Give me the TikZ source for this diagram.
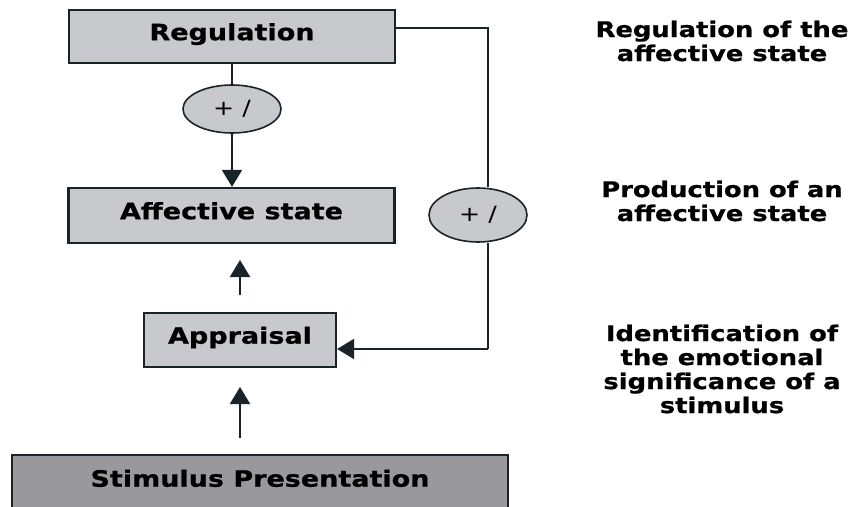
\documentclass[tikz,border=0pt]{standalone}
\usepackage{fontspec}
\setmainfont{DejaVu Sans}[FakeStretch=1.2,BoldFeatures={FakeBold=0.8}]
\usetikzlibrary{arrows.meta,shapes.geometric}
\definecolor{boxgray}{RGB}{200,201,205}
\definecolor{darkgray2}{RGB}{152,152,157}
\definecolor{edge}{RGB}{25,35,40}
\begin{document}
\begin{tikzpicture}[x=1pt,y=-1pt,
  box/.style={draw=edge,line width=2.2pt,fill=boxgray,inner sep=0pt,
    text height=17pt,text depth=9.6pt,
    font=\fontsize{22.5}{26}\selectfont\bfseries},
  oval/.style={ellipse,draw=edge,line width=1.6pt,fill=boxgray,inner sep=0pt,
    font=\fontsize{21}{24}\selectfont},
  side/.style={align=center,font=\fontsize{21.5}{24}\selectfont\bfseries},
  conn/.style={draw=edge,line width=2pt},
  arr/.style={conn,-{Triangle[length=17pt,width=20pt]}}]
\useasboundingbox (0,0) rectangle (854,506);
\fill[white] (0,0) rectangle (854,506);
\node[box,minimum width=326,minimum height=53] (reg) at (232,36.5) {Regulation};
\node[box,minimum width=326,minimum height=55] (aff) at (231.5,215.5) {Affective state};
\node[box,minimum width=192,minimum height=54] (app) at (240,340) {Appraisal};
\node[box,fill=darkgray2,minimum width=496,minimum height=56] (stim) at (260,483) {Stimulus Presentation};
\node[oval,minimum width=98,minimum height=48] (e1) at (232,109) {+ /};
\node[oval,minimum width=98,minimum height=54] (e2) at (478,215) {+ /};
\coordinate (c1) at (488,28);
\coordinate (c2) at (488,349);
\coordinate (a1) at (240,295);
\coordinate (a2) at (240,260);
\coordinate (b1) at (240,438);
\coordinate (b2) at (240,387);
\draw[conn] (reg.south -| e1) -- (e1.north);
\draw[arr] (e1.south) -- (e1.south |- aff.north);
\draw[conn] (reg.east |- c1) -- (c1) -- (c1 |- e2.north);
\draw[conn] (c2 |- e2.south) -- (c2);
\draw[arr] (c2) -- (app.east |- c2);
\draw[arr] (a1) -- (a2);
\draw[arr] (b1) -- (b2);
\node[side] (t1) at (722,41) {Regulation of the\\affective state};
\node[side] (t2) at (722,201) {Production of an\\affective state};
\node[side] (t3) at (722,369) {Identification of\\the emotional\\significance of a\\stimulus};
\end{tikzpicture}
\end{document}
